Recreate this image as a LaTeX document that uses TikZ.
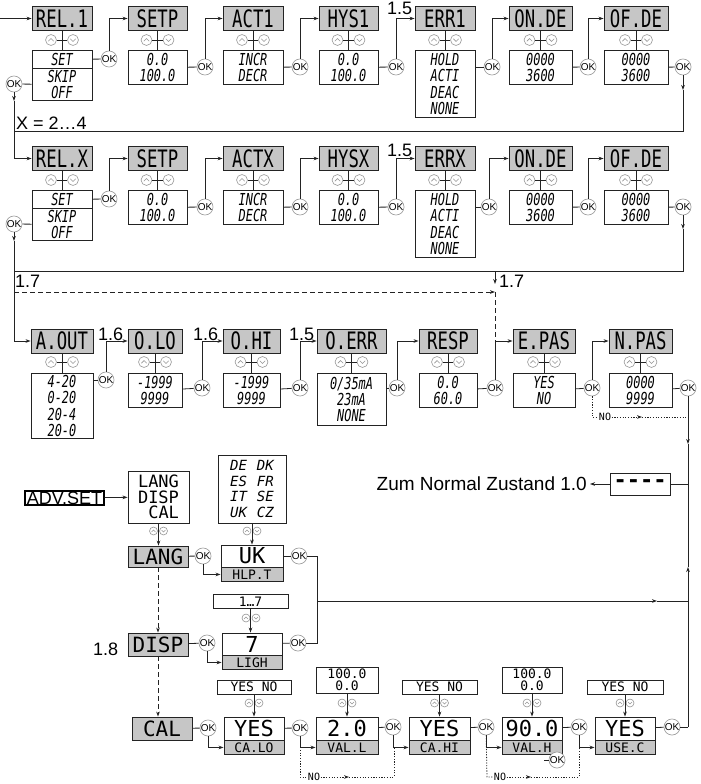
\documentclass[tikz,border=0pt]{standalone}
\usepackage{fontspec}
\setmainfont{Liberation Sans}
\newfontfamily\lcdfont{DejaVu Sans Mono}[FakeStretch=0.72]
\newfontfamily\dotfont{DejaVu Sans Mono}
\usepackage{tikz}
\usetikzlibrary{arrows.meta,positioning,calc}
\definecolor{hdrgray}{RGB}{198,198,198}
\definecolor{linegray}{RGB}{35,35,35}
\definecolor{okgray}{RGB}{150,150,150}
\newcommand{\updn}[5]{%
\node[upc=#5] (#1a) at (#2-#4,#3) {};
\node[dnc=#5] (#1b) at (#2+#4,#3) {};}

\begin{document}
\begin{tikzpicture}[
x=1pt,y=-1pt,
hdr/.style={
draw=linegray,
line width=0.9pt,
fill=hdrgray,
minimum height=24pt,
inner sep=0pt,
font=\lcdfont\fontsize{24}{24}\selectfont
},
vbox/.style={
draw=linegray,
line width=0.9pt,
fill=white,
anchor=north,
align=center,
inner sep=0pt,
font=\lcdfont\itshape\fontsize{16.5}{16.3}\selectfont
},
lhdr/.style={
hdr,
font=\dotfont\fontsize{21}{21}\selectfont
},
lbox/.style={
draw=linegray,
line width=0.9pt,
fill=white,
inner sep=0pt,
minimum height=23pt,
font=\dotfont\fontsize{22}{22}\selectfont
},
lsub/.style={
draw=linegray,
line width=0.9pt,
fill=hdrgray,
anchor=north,
inner sep=0pt,
minimum height=14pt,
font=\dotfont\fontsize{13}{13}\selectfont
},
lopt/.style={
draw=linegray,
line width=0.9pt,
fill=white,
align=center,
inner sep=0pt,
minimum height=14pt,
font=\dotfont\fontsize{13}{12}\selectfont
},
okc/.style={
circle,
draw=okgray,
line width=0.6pt,
fill=white,
minimum size=16pt,
inner sep=0pt,
font=\fontsize{10}{10}\selectfont
},
udc/.style={
circle,
draw=okgray,
line width=0.6pt,
fill=white,
inner sep=0pt
},
upc/.style={
udc,
minimum size=4.2*#1,
path picture={\draw[okgray,line width=0.6pt]
([shift={(-#1,0.45*#1)}]path picture bounding box.center)
-- ([shift={(0,-0.55*#1)}]path picture bounding box.center)
-- ([shift={(#1,0.45*#1)}]path picture bounding box.center);}
},
dnc/.style={
udc,
minimum size=4.2*#1,
path picture={\draw[okgray,line width=0.6pt]
([shift={(-#1,-0.45*#1)}]path picture bounding box.center)
-- ([shift={(0,0.55*#1)}]path picture bounding box.center)
-- ([shift={(#1,-0.45*#1)}]path picture bounding box.center);}
},
num/.style={
font=\fontsize{18}{18}\selectfont,
inner sep=0pt
},
notxt/.style={
fill=white,
inner sep=0.5pt,
font=\dotfont\fontsize{10}{10}\selectfont
},
line/.style={
draw=linegray,
line width=0.8pt
},
flow/.style={
line,
-{Stealth[length=5pt,width=3.6pt]}
},
dashflow/.style={
flow,
dash pattern=on 4.5pt off 3.5pt
},
dotline/.style={
line,
dash pattern=on 1.2pt off 1.5pt
}
]

\useasboundingbox (0,0) rectangle (701,784);

% relay 1
\node[hdr,minimum width=60pt] (h11) at (62,18.5) {REL.1};
\node[vbox,minimum width=60pt,minimum height=18pt] (v11a) at (62,50) {SET};
\node[vbox,minimum width=60pt,minimum height=32pt] (v11b) at (62,68) {SKIP\\OFF};
\node[hdr,minimum width=59pt] (h12) at (157.5,18.5) {SETP};
\node[vbox,minimum width=59pt,minimum height=34pt] (v12) at (157.5,50) {0.0\\100.0};
\node[hdr,minimum width=60pt] (h13) at (253,18.5) {ACT1};
\node[vbox,minimum width=60pt,minimum height=34pt] (v13) at (253,50) {INCR\\DECR};
\node[hdr,minimum width=59pt] (h14) at (348.5,18.5) {HYS1};
\node[vbox,minimum width=59pt,minimum height=34pt] (v14) at (348.5,50) {0.0\\100.0};
\node[hdr,minimum width=60pt] (h15) at (445,18.5) {ERR1};
\node[vbox,minimum width=60pt,minimum height=67pt] (v15) at (445,50) {HOLD\\ACTI\\DEAC\\NONE};
\node[hdr,minimum width=63pt] (h16) at (540.5,18.5) {ON.DE};
\node[vbox,minimum width=63pt,minimum height=34pt] (v16) at (540.5,50) {0000\\3600};
\node[hdr,minimum width=64pt] (h17) at (636,18.5) {OF.DE};
\node[vbox,minimum width=64pt,minimum height=34pt] (v17) at (636,50) {0000\\3600};

\updn{u11}{62}{40}{11}{2.6}
\updn{u12}{157.5}{40}{11}{2.6}
\updn{u13}{253}{40}{11}{2.6}
\updn{u14}{348.5}{40}{11}{2.6}
\updn{u15}{445}{40}{11}{2.6}
\updn{u16}{540.5}{40}{11}{2.6}
\updn{u17}{636}{40}{11}{2.6}

\node[okc] (ok10) at (14,84) {OK};
\node[okc] (ok11) at (109,59) {OK};
\node[okc] (ok12) at (205,67) {OK};
\node[okc] (ok13) at (300,67) {OK};
\node[okc] (ok14) at (396,67) {OK};
\node[okc] (ok15) at (492,67) {OK};
\node[okc] (ok16) at (588,67) {OK};
\node[okc] (ok17) at (683,67) {OK};

\node[num,anchor=base west] (l15a) at (387,15) {1.5};

\coordinate (s0) at (0,18.5);
\draw[flow] (s0) -- (h11);

\draw[line] (h11) -- (v11a);
\draw[line] (h12) -- (v12);
\draw[line] (h13) -- (v13);
\draw[line] (h14) -- (v14);
\draw[line] (h15) -- (v15);
\draw[line] (h16) -- (v16);
\draw[line] (h17) -- (v17);
\draw[line] (u11a) -- (u11b);
\draw[line] (u12a) -- (u12b);
\draw[line] (u13a) -- (u13b);
\draw[line] (u14a) -- (u14b);
\draw[line] (u15a) -- (u15b);
\draw[line] (u16a) -- (u16b);
\draw[line] (u17a) -- (u17b);

\draw[line] (v11a) -- (ok11);
\draw[line] (ok10) -- (v11b);
\draw[line] (v12) -- (ok12);
\draw[line] (v13) -- (ok13);
\draw[line] (v14) -- (ok14);
\draw[line] (v15.east |- ok15) -- (ok15);
\draw[line] (v16) -- (ok16);
\draw[line] (v17) -- (ok17);

\draw[flow] (ok11) |- (h12);
\draw[flow] (ok12) |- (h13);
\draw[flow] (ok13) |- (h14);
\draw[flow] (ok14) |- (h15);
\draw[flow] (ok15) |- (h16);
\draw[flow] (ok16) |- (h17);

% relay x
\node[hdr,minimum width=60pt] (h21) at (62,158.5) {REL.X};
\node[vbox,minimum width=60pt,minimum height=18pt] (v21a) at (62,190) {SET};
\node[vbox,minimum width=60pt,minimum height=32pt] (v21b) at (62,208) {SKIP\\OFF};
\node[hdr,minimum width=59pt] (h22) at (157.5,158.5) {SETP};
\node[vbox,minimum width=59pt,minimum height=34pt] (v22) at (157.5,190) {0.0\\100.0};
\node[hdr,minimum width=60pt] (h23) at (253,158.5) {ACTX};
\node[vbox,minimum width=60pt,minimum height=34pt] (v23) at (253,190) {INCR\\DECR};
\node[hdr,minimum width=59pt] (h24) at (348.5,158.5) {HYSX};
\node[vbox,minimum width=59pt,minimum height=34pt] (v24) at (348.5,190) {0.0\\100.0};
\node[hdr,minimum width=60pt] (h25) at (445,158.5) {ERRX};
\node[vbox,minimum width=60pt,minimum height=67pt] (v25) at (445,190) {HOLD\\ACTI\\DEAC\\NONE};
\node[hdr,minimum width=63pt] (h26) at (540.5,158.5) {ON.DE};
\node[vbox,minimum width=63pt,minimum height=34pt] (v26) at (540.5,190) {0000\\3600};
\node[hdr,minimum width=64pt] (h27) at (636,158.5) {OF.DE};
\node[vbox,minimum width=64pt,minimum height=34pt] (v27) at (636,190) {0000\\3600};

\updn{u21}{62}{180}{11}{2.6}
\updn{u22}{157.5}{180}{11}{2.6}
\updn{u23}{253}{180}{11}{2.6}
\updn{u24}{348.5}{180}{11}{2.6}
\updn{u25}{445}{180}{11}{2.6}
\updn{u26}{540.5}{180}{11}{2.6}
\updn{u27}{636}{180}{11}{2.6}

\node[okc] (ok20) at (14,224) {OK};
\node[okc] (ok21) at (109,199) {OK};
\node[okc] (ok22) at (205,207) {OK};
\node[okc] (ok23) at (300,207) {OK};
\node[okc] (ok24) at (396,207) {OK};
\node[okc] (ok25) at (489,207) {OK};
\node[okc] (ok26) at (588,207) {OK};
\node[okc] (ok27) at (683,207) {OK};

\node[num,anchor=base west] (l15b) at (387,156) {1.5};
\node[num,anchor=base west] (lx) at (16,129) {X = 2…4};

\coordinate (c1) at (683,90);
\coordinate (c2) at (683,131);
\coordinate (c3) at (14,131);
\coordinate (c4) at (14,101);
\draw[flow] (ok17) -- (c1);
\draw[flow] (c1) -- (c2) -- (c3) |- (h21);
\draw[flow] (ok10) -- (c4);
\draw[line] (c4) -- (c3);

\draw[line] (h21) -- (v21a);
\draw[line] (h22) -- (v22);
\draw[line] (h23) -- (v23);
\draw[line] (h24) -- (v24);
\draw[line] (h25) -- (v25);
\draw[line] (h26) -- (v26);
\draw[line] (h27) -- (v27);
\draw[line] (u21a) -- (u21b);
\draw[line] (u22a) -- (u22b);
\draw[line] (u23a) -- (u23b);
\draw[line] (u24a) -- (u24b);
\draw[line] (u25a) -- (u25b);
\draw[line] (u26a) -- (u26b);
\draw[line] (u27a) -- (u27b);

\draw[line] (v21a) -- (ok21);
\draw[line] (ok20) -- (v21b);
\draw[line] (v22) -- (ok22);
\draw[line] (v23) -- (ok23);
\draw[line] (v24) -- (ok24);
\draw[line] (v25.east |- ok25) -- (ok25);
\draw[line] (v26) -- (ok26);
\draw[line] (v27) -- (ok27);

\draw[flow] (ok21) |- (h22);
\draw[flow] (ok22) |- (h23);
\draw[flow] (ok23) |- (h24);
\draw[flow] (ok24) |- (h25);
\draw[flow] (ok25) |- (h26);
\draw[flow] (ok26) |- (h27);

% analog output
\node[hdr,minimum width=62pt] (h31) at (62,341) {A.OUT};
\node[vbox,minimum width=62pt,minimum height=65pt] (v31) at (62,373) {4-20\\0-20\\20-4\\20-0};
\node[hdr,minimum width=54pt] (h32) at (155,341) {O.LO};
\node[vbox,minimum width=54pt,minimum height=34pt] (v32) at (155,373) {-1999\\9999};
\node[hdr,minimum width=57pt] (h33) at (251.5,341) {O.HI};
\node[vbox,minimum width=57pt,minimum height=34pt] (v33) at (251.5,373) {-1999\\9999};
\node[hdr,minimum width=69pt] (h34) at (351.5,341) {O.ERR};
\node[vbox,minimum width=69pt,minimum height=52pt] (v34) at (351.5,373) {0/35mA\\23mA\\NONE};
\node[hdr,minimum width=58pt] (h35) at (448,341) {RESP};
\node[vbox,minimum width=58pt,minimum height=34pt] (v35) at (448,373) {0.0\\60.0};
\node[hdr,minimum width=62pt] (h36) at (544,341) {E.PAS};
\node[vbox,minimum width=62pt,minimum height=34pt] (v36) at (544,373) {YES\\NO};
\node[hdr,minimum width=63pt] (h37) at (640.5,341) {N.PAS};
\node[vbox,minimum width=63pt,minimum height=34pt] (v37) at (640.5,373) {0000\\9999};

\updn{u31}{62}{362}{11}{2.6}
\updn{u32}{155}{362}{11}{2.6}
\updn{u33}{251.5}{362}{11}{2.6}
\updn{u34}{351.5}{362}{11}{2.6}
\updn{u35}{448}{362}{11}{2.6}
\updn{u36}{544}{362}{11}{2.6}
\updn{u37}{640.5}{362}{11}{2.6}

\node[okc] (ok31) at (106,380) {OK};
\node[okc] (ok32) at (202,388) {OK};
\node[okc] (ok33) at (300,388) {OK};
\node[okc] (ok34) at (397,388) {OK};
\node[okc] (ok35) at (495,388) {OK};
\node[okc] (ok36) at (592,388) {OK};
\node[okc] (ok37) at (688,388) {OK};

\node[num,anchor=base west] (l16a) at (98,340) {1.6};
\node[num,anchor=base west] (l16b) at (193,340) {1.6};
\node[num,anchor=base west] (l15c) at (289,340) {1.5};
\node[num,anchor=base west] (l17a) at (15,287) {1.7};
\node[num,anchor=base west] (l17b) at (499,287) {1.7};

\coordinate (d1) at (683,229);
\coordinate (d2) at (683,271);
\coordinate (d3) at (14,271);
\coordinate (d4) at (14,241);
\draw[flow] (ok27) -- (d1);
\draw[flow] (d1) -- (d2) -- (d3) |- (h31);
\draw[flow] (ok20) -- (d4);
\draw[line] (d4) -- (d3);

\coordinate (t1) at (495,271);
\coordinate (t2) at (495,284);
\draw[flow] (t1) -- (t2);

\coordinate (e1) at (14,292);
\coordinate (e2) at (495,292);
\coordinate (e3) at (495,341);
\draw[dashflow] (e1) -- (e2);
\draw[line,dash pattern=on 4.5pt off 3.5pt] (e2) -- (e3);

\draw[line] (h31) -- (v31);
\draw[line] (h32) -- (v32);
\draw[line] (h33) -- (v33);
\draw[line] (h34) -- (v34);
\draw[line] (h35) -- (v35);
\draw[line] (h36) -- (v36);
\draw[line] (h37) -- (v37);
\draw[line] (u31a) -- (u31b);
\draw[line] (u32a) -- (u32b);
\draw[line] (u33a) -- (u33b);
\draw[line] (u34a) -- (u34b);
\draw[line] (u35a) -- (u35b);
\draw[line] (u36a) -- (u36b);
\draw[line] (u37a) -- (u37b);

\draw[line] (v31.east |- ok31) -- (ok31);
\draw[line] (v32) -- (ok32);
\draw[line] (v33) -- (ok33);
\draw[line] (v34.east |- ok34) -- (ok34);
\draw[line] (v35) -- (ok35);
\draw[line] (v36) -- (ok36);
\draw[line] (v37) -- (ok37);

\draw[flow] (ok31) |- (h32);
\draw[flow] (ok32) |- (h33);
\draw[flow] (ok33) |- (h34);
\draw[flow] (ok34) |- (h35);
\draw[flow] (ok35) |- (h36);
\draw[flow] (ok36) |- (h37);

\node[notxt] (no0) at (605,417) {NO};
\coordinate (n1) at (592,417);
\coordinate (n2) at (642,417);
\coordinate (n3) at (688,417);
\draw[dotline] (ok36) -- (n1) -- (no0);
\draw[dotline,-{Stealth[length=5pt,width=3.6pt]}] (no0) -- (n2);
\draw[dotline] (n2) -- (n3);

% exit
\node[draw=linegray,line width=0.9pt,minimum width=60pt,minimum height=22pt,inner sep=0pt,font=\dotfont\bfseries\fontsize{22}{22}\selectfont] (dsh) at (640,484) {----};
\node[anchor=east,inner sep=3pt,font=\fontsize{19}{19}\selectfont] (zum) at (590,484) {Zum Normal Zustand 1.0};

\coordinate (f1) at (688,444);
\coordinate (f2) at (688,484);
\coordinate (g1) at (688,727);
\coordinate (g2) at (688,567);
\draw[flow] (ok37) -- (f1);
\draw[line] (f1) -- (f2) -- (dsh);
\draw[flow] (dsh) -- (zum);

% advanced settings
\node[draw=black,line width=2pt,inner xsep=1.5pt,inner ysep=1pt,font=\fontsize{18}{18}\selectfont] (adv) at (64.5,498) {ADV.SET};
\node[draw=linegray,line width=0.9pt,minimum width=61pt,minimum height=52pt,inner sep=0pt,align=right,font=\dotfont\fontsize{17}{15.5}\selectfont] (mnu) at (158.5,497) {LANG\\DISP\\CAL};
\node[draw=linegray,line width=0.9pt,minimum width=68pt,minimum height=68pt,inner sep=0pt,align=center,font=\dotfont\itshape\fontsize{14}{15.5}\selectfont] (lng) at (252,489) {DE\hspace{10pt}DK\\ES\hspace{10pt}FR\\IT\hspace{10pt}SE\\UK\hspace{10pt}CZ};

\node[lhdr,minimum width=60pt,minimum height=21pt] (lang) at (158,556.5) {LANG};
\node[lbox,minimum width=62pt,minimum height=22pt] (uk) at (252,556) {UK};
\node[lsub,minimum width=62pt] (hlp) at (252,567) {HLP.T};

\node[lopt,minimum width=75pt] (r17) at (250.5,601.5) {1…7};
\node[lhdr,minimum width=60pt,minimum height=23pt] (disp) at (158,644.5) {DISP};
\node[lbox,minimum width=60pt,minimum height=22pt] (sev) at (252,644) {7};
\node[lsub,minimum width=60pt] (ligh) at (252,655) {LIGH};
\node[num,anchor=base west] (l18) at (93,655) {1.8};

\node[lhdr,minimum width=60pt,minimum height=23pt] (cal) at (162,728.5) {CAL};
\node[lopt,minimum width=74pt] (yn1) at (254,687) {YES NO};
\node[lbox,minimum width=60pt] (yes1) at (254,728.5) {YES};
\node[lsub,minimum width=60pt] (calo) at (254,740) {CA.LO};
\node[lopt,minimum width=62pt,minimum height=26pt] (hz1) at (347,680) {100.0\\0.0};
\node[lbox,minimum width=62pt] (val1) at (347,728.5) {2.0};
\node[lsub,minimum width=62pt] (vall) at (347,740) {VAL.L};
\node[lopt,minimum width=75pt] (yn2) at (439.5,687) {YES NO};
\node[lbox,minimum width=61pt] (yes2) at (439.5,728.5) {YES};
\node[lsub,minimum width=61pt] (cahi) at (439.5,740) {CA.HI};
\node[lopt,minimum width=60pt,minimum height=26pt] (hz2) at (532,680) {100.0\\0.0};
\node[lbox,minimum width=60pt] (val2) at (532,728.5) {90.0};
\node[lsub,minimum width=60pt] (valh) at (532,740) {VAL.H};
\node[lopt,minimum width=76pt] (yn3) at (625,687) {YES NO};
\node[lbox,minimum width=60pt] (yes3) at (625,728.5) {YES};
\node[lsub,minimum width=60pt] (usec) at (625,740) {USE.C};

\updn{u41}{158.5}{531}{5}{1.9}
\updn{u42}{252}{531}{5}{1.9}
\updn{u43}{251}{618}{5}{1.9}
\updn{u51}{254}{703}{5}{1.9}
\updn{u52}{347}{703}{5}{1.9}
\updn{u53}{439.5}{703}{5}{1.9}
\updn{u54}{532}{703}{5}{1.9}
\updn{u55}{625}{703}{5}{1.9}

\node[okc] (okL) at (203,556) {OK};
\node[okc] (okUK) at (299,556) {OK};
\node[okc] (okD) at (207,643) {OK};
\node[okc] (ok7) at (298,643) {OK};
\node[okc] (okC) at (208,728) {OK};
\node[okc] (okY1) at (300,728) {OK};
\node[okc] (okV1) at (393,727) {OK};
\node[okc] (okY2) at (486,727) {OK};
\node[okc] (okV2) at (579,727) {OK};
\node[okc] (okU) at (672,727) {OK};
\node[okc] (okVH) at (557,760) {OK};

\draw[flow] (adv) -- (mnu);
\draw[flow] (mnu) -- (mnu |- lang.north);
\draw[flow] (lng) -- (uk);
\draw[line] (lang) -- (okL);
\draw[flow] (okL) |- (hlp);
\draw[line] (uk) -- (okUK);
\draw[dashflow] (lang) -- (disp);
\draw[flow] (r17) -- (r17 |- sev.north);
\draw[line] (disp) -- (okD);
\draw[flow] (okD) |- (ligh);
\draw[line] (sev) -- (ok7);
\draw[dashflow] (disp) -- (disp |- cal.north);

\coordinate (m1) at (317,556);
\coordinate (m2) at (317,643);
\coordinate (k1) at (317,601);
\coordinate (k2) at (657,601);
\coordinate (k3) at (688,601);
\draw[line] (okUK) -- (m1) -- (m2) -- (ok7);
\draw[flow] (k1) -- (k2);
\draw[line] (k2) -- (k3);

\draw[line] (cal) -- (okC);
\draw[flow] (okC) |- (calo);
\draw[flow] (yn1) -- (yes1);
\draw[line] (yes1) -- (okY1);
\draw[flow] (okY1) |- (vall);
\draw[flow] (hz1) -- (val1);
\draw[line] (val1) -- (okV1);
\draw[flow] (okV1) |- (cahi);
\draw[flow] (yn2) -- (yes2);
\draw[line] (yes2) -- (okY2);
\draw[flow] (okY2) |- (valh);
\draw[flow] (hz2) -- (val2);
\draw[line] (val2) -- (okV2);
\draw[flow] (okV2) |- (usec);
\draw[flow] (yn3) -- (yes3);
\draw[line] (yes3) -- (okU);

\coordinate (r1) at (544,760);
\draw[line] (r1) -- (okVH);

\draw[line] (okU) -- (g1);
\draw[flow] (g1) -- (g2);
\draw[line] (g2) -- (f2);

\node[notxt] (no1) at (314,777) {NO};
\coordinate (p1) at (300,777);
\coordinate (p2) at (349,777);
\coordinate (p3) at (394,777);
\coordinate (p4) at (394,746.5);
\draw[dotline] (okY1) -- (p1) -- (no1);
\draw[dotline,-{Stealth[length=5pt,width=3.6pt]}] (no1) -- (p2);
\draw[dotline] (p2) -- (p3) -- (p4);

\node[notxt] (no2) at (500,777) {NO};
\coordinate (q1) at (487,777);
\coordinate (q2) at (531,777);
\coordinate (q3) at (579,777);
\coordinate (q4) at (579,746.5);
\draw[dotline] (okY2) -- (q1) -- (no2);
\draw[dotline,-{Stealth[length=5pt,width=3.6pt]}] (no2) -- (q2);
\draw[dotline] (q2) -- (q3) -- (q4);

\end{tikzpicture}
\end{document}
